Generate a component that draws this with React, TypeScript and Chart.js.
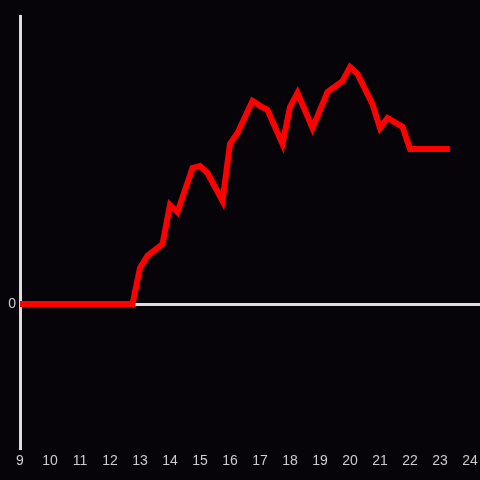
import React, { useEffect, useRef } from "react";
import { Chart, registerables } from "chart.js";

Chart.register(...registerables);

// hour of day (decimal)
const hours = [9, 12.75, 13, 13.25, 13.75, 14, 14.25, 14.75, 15, 15.25, 15.75, 16, 16.25, 16.75, 17, 17.25, 17.75, 18, 18.25, 18.75, 19.25, 19.75, 20, 20.25, 20.75, 21, 21.25, 21.75, 22, 23.33];
const values = [0, 0, 12.5, 16.7, 20.8, 34.4, 31.9, 47.2, 47.9, 45.5, 35.8, 55.6, 59.4, 70.5, 68.8, 67.4, 55.6, 68.4, 73.3, 61.1, 73.6, 77.4, 82.3, 79.9, 69.4, 61.1, 64.6, 61.5, 53.8, 53.8];
const xTicks = [9, 10, 11, 12, 13, 14, 15, 16, 17, 18, 19, 20, 21, 22, 23, 24];
const yTicks = [0];

const BG = "#060408";
const AXIS = "#dddddd";
const TEXT = "#cccccc";

export default function App() {
  const ref = useRef<HTMLCanvasElement | null>(null);
  useEffect(() => {
    if (!ref.current) return;
    const bgPlugin = {
      id: "bg",
      beforeDraw(chart: any) {
        const { ctx, width, height } = chart;
        ctx.save();
        ctx.fillStyle = BG;
        ctx.fillRect(0, 0, width, height);
        ctx.restore();
      },
    };
    const chart = new Chart(ref.current, {
      type: "line",
      data: {
        datasets: [
          {
            data: hours.map((h, i) => ({ x: h, y: values[i] })),
            borderColor: "#ff0000",
            borderWidth: 6,
            pointRadius: 0,
            tension: 0,
            fill: false,
            borderJoinStyle: "miter",
          },
        ],
      },
      options: {
        animation: false,
        responsive: false,
        devicePixelRatio: 1,
        layout: { padding: { top: 16, right: 0, left: 0, bottom: 0 } },
        plugins: { legend: { display: false }, tooltip: { enabled: false } },
        scales: {
          x: {
            type: "linear",
            min: 9,
            max: 24 + 1 / 3,
            afterBuildTicks: (s: any) => {
              s.ticks = xTicks.map((v) => ({ value: v }));
            },
            afterFit: (s: any) => {
              s.height = 32;
              s.paddingRight = 0;
              s.paddingLeft = 0;
            },
            grid: { display: false, drawTicks: false },
            border: { display: false },
            ticks: {
              color: TEXT,
              padding: 5,
              maxRotation: 0,
              autoSkip: false,
              font: { family: "'Liberation Sans', Arial, sans-serif", size: 14 },
            },
          },
          y: {
            type: "linear",
            min: -50,
            max: 100,
            afterBuildTicks: (s: any) => {
              s.ticks = yTicks.map((v) => ({ value: v }));
            },
            afterFit: (s: any) => {
              s.width = 20;
            },
            grid: {
              drawTicks: false,
              color: (c: any) => (c.tick && c.tick.value === 0 ? AXIS : "rgba(0,0,0,0)"),
              lineWidth: 3,
            },
            border: { display: true, color: AXIS, width: 3 },
            ticks: {
              color: TEXT,
              padding: 4,
              font: { family: "'Liberation Sans', Arial, sans-serif", size: 14 },
            },
          },
        },
      },
      plugins: [bgPlugin],
    } as any);
    return () => chart.destroy();
  }, []);
  return (
    <div style={{ position: "fixed", left: 0, top: 0, width: 480, height: 480, background: BG }}>
      <canvas ref={ref} width={480} height={480} style={{ width: 480, height: 480, display: "block" }} />
    </div>
  );
}
